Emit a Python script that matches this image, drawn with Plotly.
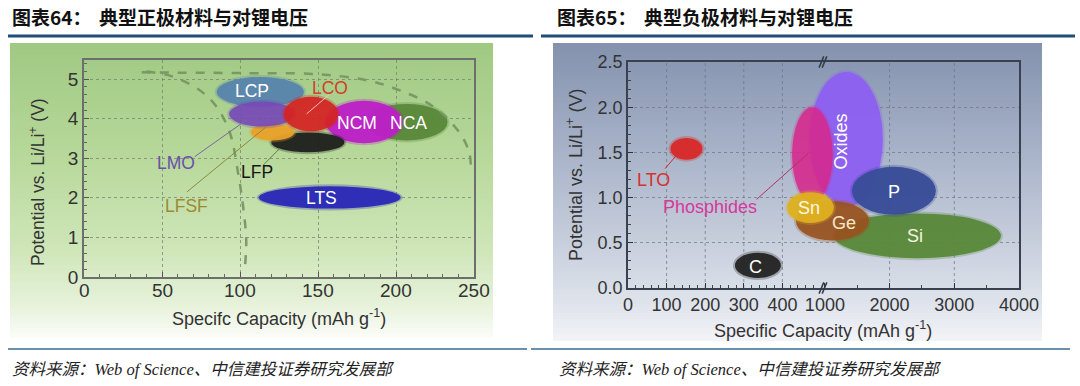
import numpy as np
import plotly.graph_objects as go

W, H = 1080, 386

# ---------------- Left panel: cathode materials ----------------
cat_names = ["NCA", "NCM", "LFP", "LFSF", "LCP", "LMO", "LCO", "LTS"]
cat_cap_min = [181, 155, 120, 107, 85, 93, 128, 112]
cat_cap_max = [233, 204, 167, 135, 141, 135, 163, 203]
cat_v_min = [3.45, 3.38, 3.15, 3.45, 4.30, 3.80, 3.68, 1.73]
cat_v_max = [4.37, 4.45, 3.65, 3.87, 5.05, 4.43, 4.55, 2.29]
cat_colors = ["rgba(88,136,58,0.95)", "rgba(188,32,198,0.95)", "rgba(28,28,28,0.92)",
              "rgba(232,162,42,0.95)", "rgba(88,132,172,0.95)", "rgba(118,72,182,0.88)",
              "rgba(212,36,36,0.92)", "rgba(46,46,182,1)"]

# labels drawn inside ellipses
cat_in_text = ["LCP", "NCM", "NCA", "LTS"]
cat_in_cap = [108, 175, 208, 152]
cat_in_v = [4.70, 3.90, 3.90, 1.99]

# labels outside with leader lines
cat_out_text = ["LCO", "LMO", "LFSF", "LFP"]
cat_out_cap = [158, 59, 66, 111]
cat_out_v = [4.77, 2.89, 1.80, 2.66]
cat_out_color = ["#d0402a", "#6a50aa", "#9c8a30", "#151515"]
cat_lead_cap0 = [157, 71, 66, 115]
cat_lead_v0 = [4.60, 3.04, 2.15, 2.83]
cat_lead_cap1 = [142.7, 104, 117, 125.6]
cat_lead_v1 = [4.12, 3.96, 3.80, 3.25]
cat_lead_color = ["rgba(255,200,200,0.9)", "#7a6a9a", "#8a8a40", "#6a7a40"]

# dashed boundary curves
curve1_cap = [37, 60, 100, 150, 181, 202, 224, 241, 247, 248]
curve1_v = [5.17, 5.16, 5.15, 5.12, 4.97, 4.72, 4.30, 3.63, 3.13, 2.78]
curve2_cap = [40, 57, 74, 85, 93.6, 98.8, 102, 104, 103]
curve2_v = [5.19, 5.06, 4.72, 4.30, 3.63, 2.62, 1.78, 0.93, 0.18]

left_xticks = [0, 50, 100, 150, 200, 250]
left_yticks = [0, 1, 2, 3, 4, 5]

# ---------------- Right panel: anode materials ----------------
ano_names = ["Oxides", "Phosphides", "Si", "P", "Ge", "Sn", "C", "LTO"]
ano_cap_min = [471, 425, 1139, 1417, 435, 412, 277, 110]
ano_cap_max = [1896, 1120, 3720, 2716, 1680, 1139, 396, 193]
ano_v_min = [0.90, 0.95, 0.33, 0.81, 0.525, 0.72, 0.11, 1.42]
ano_v_max = [2.39, 2.00, 0.825, 1.34, 0.96, 1.06, 0.39, 1.66]
ano_colors = ["rgba(140,96,240,0.95)", "rgba(214,40,140,0.85)", "rgba(88,136,58,0.95)",
              "rgba(56,76,152,0.95)", "rgba(152,82,32,0.92)", "rgba(222,176,32,0.95)",
              "rgba(36,36,36,0.95)", "rgba(216,40,40,0.95)"]

ano_in_text = ["Oxides", "P", "Si", "Ge", "Sn", "C"]
ano_in_cap = [1247, 2070, 2390, 1300, 470, 331]
ano_in_v = [1.62, 1.06, 0.575, 0.72, 0.89, 0.235]
ano_in_angle = [-90, 0, 0, 0, 0, 0]
ano_in_color = ["white", "white", "#f4f4e0", "#f6e8c8", "#fff8e0", "white"]

ano_out_text = ["LTO", "Phosphides"]
ano_out_cap = [66, 212]
ano_out_v = [1.19, 0.90]
ano_out_color = ["#d8302c", "#d8389a"]
ano_lead_cap0 = [96, 333]
ano_lead_v0 = [1.32, 0.98]
ano_lead_cap1 = [126, 467]
ano_lead_v1 = [1.47, 1.49]
ano_lead_color = ["#c83030", "#b0306a"]

right_xtick_vals = [0, 100, 200, 300, 400, 1000, 2000, 3000, 4000]
right_grid_vals = [100, 200, 300, 400, 2000, 3000]
right_yticks = [0.0, 0.5, 1.0, 1.5, 2.0, 2.5]

BREAK_K = 0.1676  # compression of the 1000-4000 section relative to 0-500


def to_axis(c):
    c = np.asarray(c, dtype=float)
    return np.where(c <= 500, c,
                    np.where(c >= 1000, 510 + (c - 1000) * BREAK_K,
                             500 + (c - 500) * 0.02))


# ---------------- layout geometry (pixels) ----------------
L_X0, L_X1, L_Y0, L_Y1 = 84, 474, 60, 277     # left plot area
R_X0, R_X1, R_Y0, R_Y1 = 628, 1019, 62, 288    # right plot area
L_YMAX = 5.48


def px(x):
    return x / W


def py(y):
    return 1 - y / H


shapes = []
annotations = []


def hexmix(c1, c2, t):
    a = np.array([int(c1[i:i + 2], 16) for i in (1, 3, 5)], float)
    b = np.array([int(c2[i:i + 2], 16) for i in (1, 3, 5)], float)
    m = a + (b - a) * t
    return "rgb(%d,%d,%d)" % tuple(np.round(m))


def gradient(x0, x1, y0, y1, stops, step=3):
    ys = np.arange(y0, y1, step)
    pos = [s[0] for s in stops]
    for y in ys:
        f = (y - y0) / (y1 - y0)
        for i in range(len(stops) - 1):
            if pos[i] <= f <= pos[i + 1]:
                t = (f - pos[i]) / (pos[i + 1] - pos[i])
                col = hexmix(stops[i][1], stops[i + 1][1], t)
                break
        shapes.append(dict(type="rect", xref="paper", yref="paper",
                           x0=px(x0), x1=px(x1), y0=py(min(y + step, y1)), y1=py(y),
                           fillcolor=col, line=dict(width=0), layer="below"))


gradient(10, 493, 43, 338, [(0, "#a0c983"), (0.35, "#b5d798"), (0.7, "#cfe6b9"),
                            (0.88, "#e6f2da"), (1.0, "#fcfdf9")])
gradient(553, 1042, 43, 341, [(0, "#8492ae"), (0.35, "#a7b2c8"), (0.7, "#cbd2df"),
                              (0.88, "#e0e4ec"), (1.0, "#f4f5f8")])

# header/footer rules
for (x0, x1) in [(8, 533), (541, 1075)]:
    shapes.append(dict(type="line", xref="paper", yref="paper", x0=px(x0), x1=px(x1),
                       y0=py(36), y1=py(36), line=dict(color="#1f4e7a", width=3)))
for (x0, x1) in [(8, 527), (531, 1070)]:
    shapes.append(dict(type="line", xref="paper", yref="paper", x0=px(x0), x1=px(x1),
                       y0=py(349), y1=py(349), line=dict(color="#3a6a90", width=1.5)))

# ellipses (with soft halo)
L_PX_X = (L_X1 - L_X0) / 250.0
L_PX_Y = (L_Y1 - L_Y0) / L_YMAX
for i in range(len(cat_names)):
    ex, ey = 2.0 / L_PX_X, 2.0 / L_PX_Y
    shapes.append(dict(type="circle", xref="x", yref="y",
                       x0=cat_cap_min[i] - ex, x1=cat_cap_max[i] + ex,
                       y0=cat_v_min[i] - ey, y1=cat_v_max[i] + ey,
                       fillcolor=cat_colors[i], opacity=0.3, line=dict(width=0), layer="between"))
    shapes.append(dict(type="circle", xref="x", yref="y",
                       x0=cat_cap_min[i], x1=cat_cap_max[i], y0=cat_v_min[i], y1=cat_v_max[i],
                       fillcolor=cat_colors[i], line=dict(width=0), layer="between"))

R_PX_X = (R_X1 - R_X0) / float(to_axis(4000))
R_PX_Y = (R_Y1 - R_Y0) / 2.5
for i in range(len(ano_names)):
    ex, ey = 2.0 / R_PX_X, 2.0 / R_PX_Y
    a0, a1 = float(to_axis(ano_cap_min[i])), float(to_axis(ano_cap_max[i]))
    shapes.append(dict(type="circle", xref="x2", yref="y2",
                       x0=a0 - ex, x1=a1 + ex, y0=ano_v_min[i] - ey, y1=ano_v_max[i] + ey,
                       fillcolor=ano_colors[i], opacity=0.3, line=dict(width=0), layer="between"))
    shapes.append(dict(type="circle", xref="x2", yref="y2",
                       x0=a0, x1=a1, y0=ano_v_min[i], y1=ano_v_max[i],
                       fillcolor=ano_colors[i], line=dict(width=0), layer="between"))

# right panel grid (skips the break at 1000)
for v in right_grid_vals:
    a = float(to_axis(v))
    shapes.append(dict(type="line", xref="x2", yref="y2 domain", x0=a, x1=a, y0=0, y1=1,
                       line=dict(color="rgba(110,115,125,0.7)", width=1, dash="dot"), layer="below"))

# axis-break marks
bx = float(to_axis(750))
for yd in (0, 1):
    for dx in (-4, 4):
        shapes.append(dict(type="line", xref="x2", yref="y2 domain",
                           x0=bx + dx - 6, x1=bx + dx + 6, y0=yd - 0.025, y1=yd + 0.025,
                           line=dict(color="#333a48", width=1.5), layer="above"))

fig = go.Figure()

# dashed boundary curves
for cx, cy in [(curve1_cap, curve1_v), (curve2_cap, curve2_v)]:
    fig.add_trace(go.Scatter(x=cx, y=cy, mode="lines", xaxis="x", yaxis="y",
                             line=dict(color="rgba(120,150,100,0.95)", width=2.5, dash="dash",
                                       shape="spline", smoothing=1.0),
                             hoverinfo="skip", showlegend=False))

# leader lines
for i in range(len(cat_out_text)):
    fig.add_trace(go.Scatter(x=[cat_lead_cap0[i], cat_lead_cap1[i]], y=[cat_lead_v0[i], cat_lead_v1[i]],
                             mode="lines", xaxis="x", yaxis="y",
                             line=dict(color=cat_lead_color[i], width=1),
                             hoverinfo="skip", showlegend=False))
for i in range(len(ano_out_text)):
    fig.add_trace(go.Scatter(x=to_axis([ano_lead_cap0[i], ano_lead_cap1[i]]),
                             y=[ano_lead_v0[i], ano_lead_v1[i]],
                             mode="lines", xaxis="x2", yaxis="y2",
                             line=dict(color=ano_lead_color[i], width=1),
                             hoverinfo="skip", showlegend=False))

LAB = "Liberation Sans, Arial, sans-serif"
for i, t in enumerate(cat_in_text):
    annotations.append(dict(x=cat_in_cap[i], y=cat_in_v[i], xref="x", yref="y", text=t,
                            showarrow=False, font=dict(family=LAB, size=17.5, color="white")))
for i, t in enumerate(cat_out_text):
    annotations.append(dict(x=cat_out_cap[i], y=cat_out_v[i], xref="x", yref="y", text=t,
                            showarrow=False, font=dict(family=LAB, size=17.5, color=cat_out_color[i])))
for i, t in enumerate(ano_in_text):
    annotations.append(dict(x=float(to_axis(ano_in_cap[i])), y=ano_in_v[i], xref="x2", yref="y2", text=t,
                            textangle=ano_in_angle[i], showarrow=False,
                            font=dict(family=LAB, size=18, color=ano_in_color[i])))
for i, t in enumerate(ano_out_text):
    annotations.append(dict(x=float(to_axis(ano_out_cap[i])), y=ano_out_v[i], xref="x2", yref="y2", text=t,
                            showarrow=False, font=dict(family=LAB, size=18, color=ano_out_color[i])))

AX_COL = "#333333"
tickfont_l = dict(family=LAB, size=19, color=AX_COL)
tickfont_r = dict(family=LAB, size=18, color=AX_COL)

# left x tick labels (placed a little closer to the axis, as in the source)
for v in left_xticks:
    annotations.append(dict(x=v, y=py(290), xref="x", yref="paper", text=str(v), showarrow=False,
                            xanchor="center", yanchor="middle", font=tickfont_l))


def pann(x, y, text, font, angle=0, xanchor="center"):
    annotations.append(dict(x=px(x), y=py(y), xref="paper", yref="paper", showarrow=False,
                            xanchor=xanchor, yanchor="middle", textangle=angle, text=text, font=font))


pann(279, 317, "Specifc Capacity (mAh g<sup>-1</sup>)", dict(family=LAB, size=18, color=AX_COL))
pann(37, 182, "Potential vs. Li/Li<sup>+</sup> (V)", dict(family=LAB, size=17.5, color=AX_COL), angle=-90)
pann(823, 329, "Specific Capacity (mAh g<sup>-1</sup>)", dict(family=LAB, size=18, color=AX_COL))
pann(574, 175, "Potential vs. Li/Li<sup>+</sup> (V)", dict(family=LAB, size=18, color=AX_COL), angle=-90)

# headings and sources
CJK = "Noto Sans CJK SC"
for x, t in [(10, "图表64："), (97, "典型正极材料与对锂电压"), (555, "图表65："), (642, "典型负极材料与对锂电压")]:
    pann(x, 16, "<b>%s</b>" % t, dict(family=CJK, size=19, color="#111111"), xanchor="left")
for x in (10, 557):
    pann(x, 369, "<i>资料来源：Web of Science、中信建投证券研究发展部</i>",
         dict(family="Liberation Serif, " + CJK, size=16.5, color="#222222"), xanchor="left")

fig.update_layout(
    width=W, height=H, margin=dict(l=0, r=0, t=0, b=0, autoexpand=False), autosize=False,
    paper_bgcolor="white", plot_bgcolor="rgba(0,0,0,0)", showlegend=False,
    shapes=shapes, annotations=annotations,
    xaxis=dict(domain=[px(L_X0), px(L_X1)], range=[0, 250], anchor="y", automargin=False,
               tickvals=left_xticks, ticks="inside", ticklen=5, tickcolor="#555",
               showticklabels=False,
               showline=True, linecolor="#6e6e6e", linewidth=1.5, mirror=True,
               showgrid=True, gridcolor="rgba(120,130,110,0.75)", griddash="dot", gridwidth=1,
               zeroline=False,
               minor=dict(dtick=10, ticks="inside", ticklen=3, tickcolor="#666", showgrid=False)),
    yaxis=dict(domain=[py(L_Y1), py(L_Y0)], range=[0, L_YMAX], anchor="x", automargin=False,
               tickvals=left_yticks, ticks="inside", ticklen=5, tickcolor="#555",
               showline=True, linecolor="#6e6e6e", linewidth=1.5, mirror=True,
               showgrid=True, gridcolor="rgba(120,130,110,0.75)", griddash="dot", gridwidth=1,
               zeroline=False, tickfont=tickfont_l,
               minor=dict(dtick=0.2, ticks="inside", ticklen=3, tickcolor="#666", showgrid=False)),
    xaxis2=dict(domain=[px(R_X0), px(R_X1)], range=[0, float(to_axis(4000))], anchor="y2", automargin=False,
                tickvals=[float(v) for v in to_axis(right_xtick_vals)],
                ticktext=[str(v) for v in right_xtick_vals],
                ticks="inside", ticklen=5, tickcolor="#333",
                showline=True, linecolor="#3a4150", linewidth=1.5, mirror=True,
                showgrid=False, zeroline=False, tickfont=tickfont_r,
                minor=dict(tickvals=[float(v) for v in to_axis([20, 40, 60, 80, 120, 140, 160, 180, 220, 240,
                                                                  260, 280, 320, 340, 360, 380, 420, 440, 460, 480,
                                                                  1500, 2500, 3500])],
                           ticks="inside", ticklen=3, tickcolor="#444", showgrid=False)),
    yaxis2=dict(domain=[py(R_Y1), py(R_Y0)], range=[0, 2.5], anchor="x2", automargin=False,
                tickvals=right_yticks, tickformat=".1f", ticks="inside", ticklen=5, tickcolor="#333",
                showline=True, linecolor="#3a4150", linewidth=1.5, mirror=True,
                showgrid=True, gridcolor="rgba(110,115,125,0.7)", griddash="dot", gridwidth=1,
                zeroline=False, tickfont=tickfont_r,
                minor=dict(dtick=0.1, ticks="inside", ticklen=3, tickcolor="#444", showgrid=False)),
)

fig.write_html("out.html", config={"responsive": False, "displayModeBar": False},
               post_script="document.body.style.margin='0';document.body.style.overflow='hidden';")
